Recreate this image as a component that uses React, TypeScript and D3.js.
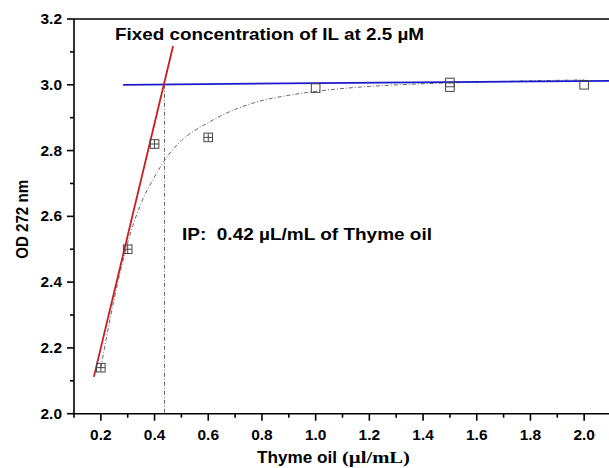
import * as d3 from 'd3'
import React from 'react'

// measured points (OD 272 nm vs thyme oil concentration)
const doseX = [0.2, 0.3, 0.4, 0.6, 1.0, 1.5, 1.5, 2.0]
const odY = [2.14, 2.5, 2.82, 2.84, 2.99, 3.007, 2.993, 3.0]
const crossed = [true, true, true, true, false, false, false, false]

// fitted curve
const fitX = [0.2, 0.25, 0.3, 0.35, 0.4, 0.45, 0.5, 0.6, 0.7, 0.8, 0.9, 1.0, 1.2, 1.4, 1.6, 1.8, 2.0]
const fitY = [2.14, 2.35, 2.52, 2.64, 2.72, 2.785, 2.83, 2.885, 2.925, 2.952, 2.968, 2.98, 2.995, 3.003, 3.008, 3.012, 3.015]

// tangent lines
const riseLine = [[0.174, 2.112], [0.469, 3.118]]
const plateauLine = [[0.283, 3.0], [2.1, 3.012]]
const ipX = 0.437

const xTicks = [0.2, 0.4, 0.6, 0.8, 1.0, 1.2, 1.4, 1.6, 1.8, 2.0]
const yTicks = [2.0, 2.2, 2.4, 2.6, 2.8, 3.0, 3.2]

const W = 609
const H = 468
const left = 74
const right = 611
const top = 19
const bottom = 413.7

const App = () => {
  const x = d3.scaleLinear().domain([0.1, 2.1]).range([left, right])
  const y = d3.scaleLinear().domain([2.0, 3.2]).range([bottom, top])
  const line = d3.line<number[]>().x((d) => x(d[0])).y((d) => y(d[1]))
  const fit = d3
    .line<number>()
    .x((d) => x(d))
    .y((d, i) => y(fitY[i]))
    .curve(d3.curveMonotoneX)
  const fmt = d3.format('.1f')
  const minorX = d3.range(0.1, 2.11, 0.1).filter((v) => Math.round(v * 10) % 2 === 1)
  const minorY = d3.range(2.1, 3.2, 0.2)
  const font = 'Arial, "Liberation Sans", sans-serif'
  const s = 8.6

  return (
    <svg
      width={W}
      height={H}
      style={{ position: 'absolute', left: 0, top: 0, background: '#fff' }}
      fontFamily={font}
    >
      {/* fitted curve */}
      <path d={fit(fitX)} fill="none" stroke="#666" strokeWidth={1} strokeDasharray="4,2,1,2" />
      {/* IP drop line */}
      <line
        x1={x(ipX)}
        x2={x(ipX)}
        y1={y(3.0)}
        y2={bottom}
        stroke="#666"
        strokeWidth={1}
        strokeDasharray="4,2,1,2"
      />
      <path d={line(plateauLine)} stroke="#1a1acc" strokeWidth={1.8} fill="none" />
      <path d={line(riseLine)} stroke="#c81e1e" strokeWidth={1.8} fill="none" />

      {doseX.map((d, i) => {
        const cx = x(d)
        const cy = y(odY[i])
        return (
          <g key={i} stroke="#444" strokeWidth={1} fill="none">
            <rect x={cx - s / 2} y={cy - s / 2} width={s} height={s} />
            {crossed[i] && (
              <>
                <line x1={cx} x2={cx} y1={cy - s / 2} y2={cy + s / 2} />
                <line x1={cx - s / 2} x2={cx + s / 2} y1={cy} y2={cy} />
              </>
            )}
          </g>
        )
      })}

      {/* axes */}
      <g stroke="#000" strokeWidth={1.6}>
        <line x1={left} x2={right} y1={bottom} y2={bottom} />
        <line x1={left} x2={right} y1={top} y2={top} />
        <line x1={left} x2={left} y1={top} y2={bottom} />
        {xTicks.map((t) => (
          <line key={t} x1={x(t)} x2={x(t)} y1={bottom} y2={bottom + 7} />
        ))}
        {minorX.map((t) => (
          <line key={t} x1={x(t)} x2={x(t)} y1={bottom} y2={bottom + 4} />
        ))}
        {yTicks.map((t) => (
          <line key={t} x1={left} x2={left - 7} y1={y(t)} y2={y(t)} />
        ))}
        {minorY.map((t) => (
          <line key={t} x1={left} x2={left - 4} y1={y(t)} y2={y(t)} />
        ))}
      </g>
      <g fontSize={14.5} fontWeight="bold" fill="#000">
        {xTicks.map((t) => (
          <text key={t} x={x(t)} y={440} textAnchor="middle" textLength={21.5} lengthAdjust="spacingAndGlyphs">
            {fmt(t)}
          </text>
        ))}
        {yTicks.map((t) => (
          <text
            key={t}
            x={62}
            y={y(t)}
            textAnchor="end"
            dominantBaseline="central"
            textLength={21.5}
            lengthAdjust="spacingAndGlyphs"
          >
            {fmt(t)}
          </text>
        ))}
      </g>

      <text
        transform={`translate(28,${(top + bottom) / 2 + 3}) rotate(-90)`}
        textAnchor="middle"
        fontSize={16.5}
        fontWeight="bold"
        textLength={79}
        lengthAdjust="spacingAndGlyphs"
      >
        OD 272 nm
      </text>
      <text x={257} y={463} fontSize={17} fontWeight="bold">
        <tspan textLength={80} lengthAdjust="spacingAndGlyphs">Thyme oil</tspan>
        <tspan
          dx={5}
          fontFamily='"Liberation Serif", "Times New Roman", serif'
          textLength={68}
          lengthAdjust="spacingAndGlyphs"
        >
          (µl/mL)
        </tspan>
      </text>

      <text x={115} y={40} fontSize={17} fontWeight="bold" textLength={309} lengthAdjust="spacingAndGlyphs">
        Fixed concentration of IL at 2.5 µM
      </text>
      <text
        x={182}
        y={240}
        fontSize={17}
        fontWeight="bold"
        style={{ whiteSpace: 'pre' }}
        textLength={250}
        lengthAdjust="spacingAndGlyphs"
      >
        IP:  0.42 µL/mL of Thyme oil
      </text>
    </svg>
  )
}

export default App
